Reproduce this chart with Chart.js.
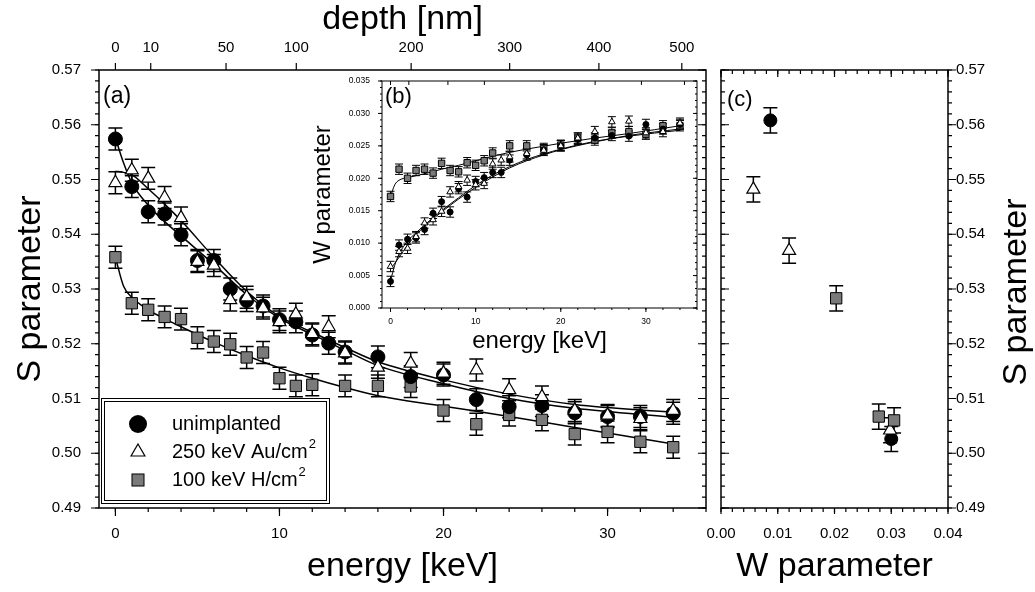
<!DOCTYPE html>
<html><head><meta charset="utf-8">
<script src="https://cdn.jsdelivr.net/npm/chart.js@4.4.1/dist/chart.umd.min.js"></script>
<style>
html,body{margin:0;padding:0;background:#fff;}
#wrap{position:relative;width:1035px;height:592px;overflow:hidden;background:#fff;}
canvas{position:absolute;}
</style></head><body>
<div id="wrap">
<canvas id="main" width="715" height="592" style="left:0;top:0"></canvas>
<canvas id="inset" width="405" height="290" style="left:300px;top:72px"></canvas>
<canvas id="panelc" width="340" height="592" style="left:695px;top:0"></canvas>
</div>
<script>
// ---------------- data ----------------
const energy = [0,1,2,3,4,5,6,7,8,9,10,11,12,13,14,16,18,20,22,24,26,28,30,32,34];
const sUnimplanted = [0.5574,0.5487,0.5441,0.5437,0.5399,0.5352,0.5352,0.5300,0.5279,0.5269,0.5244,0.5240,0.5216,0.5201,0.5185,0.5176,0.5140,0.5143,0.5098,0.5085,0.5087,0.5074,0.5067,0.5067,0.5073];
const sAu = [0.5494,0.5517,0.5502,0.5467,0.5430,0.5350,0.5343,0.5280,0.5285,0.5265,0.5240,0.5254,0.5218,0.5231,0.5183,0.5157,0.5164,0.5146,0.5152,0.5116,0.5103,0.5078,0.5069,0.5063,0.5078];
const sH = [0.5358,0.5274,0.5262,0.5249,0.5245,0.5211,0.5204,0.5199,0.5175,0.5184,0.5137,0.5123,0.5125,null,0.5123,0.5123,0.5122,0.5078,0.5053,0.5070,0.5061,0.5035,0.5039,0.5021,0.5011];
const sErr = 0.002;

const fitEnergy = [0,0.5,1,2,3,4,6,8,10,12,14,16,20,24,28,34];
const sFitUnimplanted = [0.5576,0.5530,0.5494,0.5453,0.5423,0.5397,0.5345,0.5290,0.5247,0.5217,0.5188,0.5160,0.5127,0.5100,0.5082,0.5066];
const sFitAu = [0.5515,0.5513,0.5509,0.5483,0.5455,0.5425,0.5358,0.5296,0.5250,0.5221,0.5193,0.5167,0.5134,0.5108,0.5089,0.5075];
const sFitH = [0.5358,0.5305,0.5285,0.5262,0.5246,0.5231,0.5203,0.5178,0.5156,0.5137,0.5120,0.5105,0.5086,0.5067,0.5047,0.5017];

const wUnimplanted = [0.0041,0.0097,0.0106,0.0108,0.0121,0.0146,0.0164,0.0148,0.0184,0.0171,0.0195,0.0201,0.0209,0.0209,0.0228,0.0236,0.0244,0.0250,0.0260,0.0262,0.0266,0.0265,0.0283,0.0276,0.0283];
const wAu = [0.0064,0.0087,0.0092,0.0110,0.0131,0.0136,0.0149,0.0179,0.0187,0.0197,0.0190,0.0192,0.0222,0.0228,0.0233,0.0238,0.0243,0.0250,0.0262,0.0272,0.0287,0.0288,0.0270,0.0272,0.0285];
const wH = [0.0172,0.0214,0.0200,0.0212,0.0214,0.0208,0.0223,0.0212,0.0210,0.0224,0.0220,0.0227,0.0239,null,0.0250,0.0250,0.0246,0.0251,0.0262,0.0259,0.0270,0.0272,0.0268,0.0281,0.0281];
const wErr = 0.0008;
const wFitUnimplanted = [0.0042,0.0066,0.0083,0.0103,0.0116,0.0128,0.0150,0.0170,0.0189,0.0205,0.0218,0.0229,0.0245,0.0257,0.0265,0.0274];
const wFitAu = [0.0060,0.0069,0.0078,0.0097,0.0113,0.0126,0.0148,0.0168,0.0186,0.0202,0.0216,0.0227,0.0244,0.0256,0.0266,0.0276];
const wFitH = [0.0172,0.0190,0.0197,0.0201,0.0204,0.0207,0.0214,0.0220,0.0227,0.0234,0.0240,0.0245,0.0254,0.0262,0.0269,0.0281];

const cWUnimplanted = [0.0087,0.0300];
const cSUnimplanted = [0.5608,0.5026];
const cWAu = [0.0057,0.0120,0.0298];
const cSAu = [0.5482,0.5370,0.5042];
const cWH = [0.0203,0.0278,0.0305];
const cSH = [0.5283,0.5067,0.5060];
const cErr = 0.0023;

const energyTicks = [0,10,20,30];
const depthTicks = [0,10,50,100,200,300,400,500];
const sTicks = [0.49,0.50,0.51,0.52,0.53,0.54,0.55,0.56,0.57];
const wInsetTicks = [0,0.005,0.010,0.015,0.020,0.025,0.030,0.035];
const wTicks = [0,0.01,0.02,0.03,0.04];
const seriesNames = ['unimplanted','250 keV Au/cm','100 keV H/cm'];
const seriesSup = ['','2','2'];

// depth (nm) -> positron energy (keV) conversion for the top axis
const A_DEPTH = 3.39, N_DEPTH = 1.41;
const energyOfDepth = d => Math.pow(d / A_DEPTH, 1 / N_DEPTH);

// ---------------- helpers ----------------
const FONT = "'Liberation Sans', Arial, Helvetica, sans-serif";
Chart.defaults.font.family = FONT;
Chart.defaults.color = '#000';

function pts(xs, ys) { const out = []; xs.forEach((x, i) => { if (ys[i] != null) out.push({x: x, y: ys[i]}); }); return out; }
function seq(a, b, st) { const out = []; const n = Math.round((b - a) / st); for (let k = 0; k <= n; k++) out.push(Math.round((a + k * st) * 1e6) / 1e6); return out; }
const GRAY = '#7a7a7a';
const styleCircle = {pointStyle: 'circle', backgroundColor: '#000', borderColor: '#000', borderWidth: 1};
const styleTri = {pointStyle: 'triangle', backgroundColor: '#fff', borderColor: '#000', borderWidth: 1.2};
const styleSq = {pointStyle: 'rect', backgroundColor: GRAY, borderColor: '#000', borderWidth: 1};
function fitLine(xs, ys, w) { return {data: pts(xs, ys), showLine: true, pointRadius: 0, pointHoverRadius: 0, borderColor: '#000', borderWidth: w, cubicInterpolationMode: 'monotone', fill: false, order: 10}; }

function axis(o) {
  return Object.assign({type: 'linear', grid: {display: false, drawTicks: false}, border: {display: false}}, o);
}
function fixedTicks(values) { return s => { s.ticks = values.map(v => ({value: v})); }; }
function fixH(h) { return s => { s.height = h; s.paddingLeft = 0; s.paddingRight = 0; }; }
function fixW(w) { return s => { s.width = w; s.paddingTop = 0; s.paddingBottom = 0; }; }

function makeErrorBars(cap, lw) {
  return {
    id: 'errorBars',
    beforeDatasetsDraw(chart) {
      const ctx = chart.ctx;
      ctx.save(); ctx.strokeStyle = '#000'; ctx.lineWidth = lw;
      chart.data.datasets.forEach(ds => {
        if (ds.errBar == null) return;
        const xs = chart.scales.x, ys = chart.scales.y;
        ds.data.forEach(p => {
          const px = xs.getPixelForValue(p.x);
          const y1 = ys.getPixelForValue(p.y - ds.errBar), y2 = ys.getPixelForValue(p.y + ds.errBar);
          ctx.beginPath();
          ctx.moveTo(px, y1); ctx.lineTo(px, y2);
          ctx.moveTo(px - cap, y1); ctx.lineTo(px + cap, y1);
          ctx.moveTo(px - cap, y2); ctx.lineTo(px + cap, y2);
          ctx.stroke();
        });
      });
      ctx.restore();
    }
  };
}

function makeDeco(cfg) {
  return {
    id: 'deco',
    beforeDraw(chart) {
      const a = chart.chartArea, ctx = chart.ctx;
      if (cfg.fill) { ctx.save(); ctx.fillStyle = '#fff'; ctx.fillRect(a.left, a.top, a.right - a.left, a.bottom - a.top); ctx.restore(); }
    },
    afterDraw(chart) {
      const a = chart.chartArea, ctx = chart.ctx;
      ctx.save();
      ctx.strokeStyle = '#000';
      ctx.lineWidth = cfg.frameWidth;
      ctx.strokeRect(a.left, a.top, a.right - a.left, a.bottom - a.top);
      ctx.lineWidth = cfg.tickWidth;
      cfg.ticks.forEach(t => {
        const sc = chart.scales[t.scale];
        ctx.beginPath();
        t.values.forEach(v => {
          const p = sc.getPixelForValue(v);
          if (t.edge === 'left') { ctx.moveTo(a.left, p); ctx.lineTo(a.left - t.len, p); }
          else if (t.edge === 'right') { ctx.moveTo(a.right, p); ctx.lineTo(a.right + t.len, p); }
          else if (t.edge === 'top') { ctx.moveTo(p, a.top); ctx.lineTo(p, a.top - t.len); }
          else { ctx.moveTo(p, a.bottom); ctx.lineTo(p, a.bottom + t.len); }
        });
        ctx.stroke();
      });
      ctx.fillStyle = '#000';
      (cfg.texts || []).forEach(t => {
        ctx.save();
        ctx.font = t.size + 'px ' + FONT;
        ctx.textAlign = t.align || 'left';
        ctx.textBaseline = 'middle';
        ctx.translate(t.x, t.y);
        if (t.rot) ctx.rotate(t.rot);
        ctx.fillText(t.text, 0, 0);
        ctx.restore();
      });
      if (cfg.legend) drawLegend(ctx, cfg.legend);
      ctx.restore();
    }
  };
}

function drawMarker(ctx, kind, x, y, r) {
  ctx.save();
  ctx.strokeStyle = '#000';
  if (kind === 0) { ctx.fillStyle = '#000'; ctx.beginPath(); ctx.arc(x, y, r, 0, Math.PI * 2); ctx.fill(); }
  else if (kind === 1) {
    ctx.fillStyle = '#fff'; ctx.lineWidth = 1.2; ctx.beginPath();
    for (let k = 0; k < 3; k++) { const ang = k * 2 * Math.PI / 3; const px = x + Math.sin(ang) * r, py = y - Math.cos(ang) * r; if (k === 0) ctx.moveTo(px, py); else ctx.lineTo(px, py); }
    ctx.closePath(); ctx.fill(); ctx.stroke();
  } else {
    const h = r * Math.SQRT1_2; ctx.fillStyle = GRAY; ctx.lineWidth = 1;
    ctx.fillRect(x - h, y - h, 2 * h, 2 * h); ctx.strokeRect(x - h, y - h, 2 * h, 2 * h);
  }
  ctx.restore();
}

function drawLegend(ctx, L) {
  ctx.save();
  ctx.fillStyle = '#fff';
  ctx.fillRect(L.x, L.y, L.w, L.h);
  ctx.strokeStyle = '#000'; ctx.lineWidth = 1;
  ctx.strokeRect(L.x + 0.5, L.y + 0.5, L.w - 1, L.h - 1);
  ctx.strokeRect(L.x + 3.5, L.y + 3.5, L.w - 7, L.h - 7);
  seriesNames.forEach((name, i) => {
    const y = L.rowY[i];
    drawMarker(ctx, i, L.markX, y, L.markR[i]);
    ctx.fillStyle = '#000';
    ctx.font = L.size + 'px ' + FONT;
    ctx.textAlign = 'left'; ctx.textBaseline = 'middle';
    ctx.fillText(name, L.textX, y);
    if (seriesSup[i]) {
      const w = ctx.measureText(name).width;
      ctx.font = Math.round(L.size * 0.65) + 'px ' + FONT;
      ctx.fillText(seriesSup[i], L.textX + w + 1, y - 8);
    }
  });
  ctx.restore();
}

const common = {animation: false, responsive: false, devicePixelRatio: 1, events: [],
  plugins: {legend: {display: false}, tooltip: {enabled: false}}};

// ---------------- main panel (a) ----------------
new Chart(document.getElementById('main'), {
  type: 'scatter',
  data: {datasets: [
    Object.assign({data: pts(energy, sAu), pointRadius: 7.5, errBar: sErr, order: 1}, styleTri),
    Object.assign({data: pts(energy, sUnimplanted), pointRadius: 7, errBar: sErr, order: 2}, styleCircle),
    Object.assign({data: pts(energy, sH), pointRadius: 8, errBar: sErr, order: 3}, styleSq),
    fitLine(fitEnergy, sFitUnimplanted, 1.5),
    fitLine(fitEnergy, sFitAu, 1.5),
    fitLine(fitEnergy, sFitH, 1.5)
  ]},
  options: Object.assign({}, common, {
    layout: {padding: {left: 0, right: 8, top: 0, bottom: 0}},
    scales: {
      x: axis({position: 'bottom', min: -1, max: 36, afterBuildTicks: fixedTicks(energyTicks),
        ticks: {autoSkip: false, maxRotation: 0, padding: 17, font: {size: 15}, callback: v => String(v)},
        title: {display: true, text: 'energy [keV]', font: {size: 34, lineHeight: 1}, padding: {top: 0, bottom: 8}},
        afterFit: fixH(84)}),
      xTop: axis({position: 'top', axis: 'x', min: -1, max: 36,
        afterBuildTicks: fixedTicks(depthTicks.map(energyOfDepth)),
        ticks: {autoSkip: false, maxRotation: 0, padding: 13, font: {size: 15}, callback: (v, i) => String(depthTicks[i])},
        title: {display: true, text: 'depth [nm]', font: {size: 34, lineHeight: 1}, padding: {top: 3, bottom: 0}},
        afterFit: fixH(70)}),
      y: axis({position: 'left', min: 0.49, max: 0.57, afterBuildTicks: fixedTicks(sTicks),
        ticks: {autoSkip: false, padding: 18, font: {size: 15}, callback: v => v.toFixed(2)},
        title: {display: true, text: 'S parameter', font: {size: 34, lineHeight: 1}, padding: {top: 14, bottom: 0}},
        afterFit: fixW(99)})
    }
  }),
  plugins: [makeErrorBars(7, 1.5), makeDeco({
    frameWidth: 1.5, tickWidth: 1.2,
    ticks: [
      {scale: 'y', edge: 'left', values: sTicks, len: 8},
      {scale: 'y', edge: 'left', values: seq(0.49, 0.57, 0.002), len: 4},
      {scale: 'y', edge: 'right', values: sTicks, len: -8},
      {scale: 'y', edge: 'right', values: seq(0.49, 0.57, 0.002), len: -4},
      {scale: 'x', edge: 'bottom', values: energyTicks, len: 8},
      {scale: 'x', edge: 'bottom', values: seq(0, 36, 2), len: 4},
      {scale: 'xTop', edge: 'top', values: depthTicks.map(energyOfDepth), len: 7}
    ],
    texts: [{text: '(a)', x: 103, y: 97, size: 23}],
    legend: {x: 101, y: 398, w: 229, h: 106, markX: 138, markR: [9, 8, 8.5], textX: 172, rowY: [424, 452, 480], size: 20}
  })]
});

// ---------------- inset (b) ----------------
new Chart(document.getElementById('inset'), {
  type: 'scatter',
  data: {datasets: [
    Object.assign({data: pts(energy, wAu), pointRadius: 3.8, errBar: wErr, order: 1}, styleTri, {borderWidth: 1}),
    Object.assign({data: pts(energy, wUnimplanted), pointRadius: 3, errBar: wErr, order: 2}, styleCircle),
    Object.assign({data: pts(energy, wH), pointRadius: 4.5, errBar: wErr, order: 3}, styleSq),
    fitLine(fitEnergy, wFitUnimplanted, 1),
    fitLine(fitEnergy, wFitAu, 1),
    fitLine(fitEnergy, wFitH, 1)
  ]},
  options: Object.assign({}, common, {
    layout: {padding: {left: 0, right: 8, top: 9, bottom: 0}},
    scales: {
      x: axis({position: 'bottom', min: -1, max: 36, afterBuildTicks: fixedTicks(energyTicks),
        ticks: {autoSkip: false, maxRotation: 0, padding: 9, font: {size: 8.5}, callback: v => String(v)},
        title: {display: true, text: 'energy [keV]', font: {size: 24, lineHeight: 1}, padding: {top: 0, bottom: 9}},
        afterFit: fixH(54)}),
      y: axis({position: 'left', min: 0, max: 0.035, afterBuildTicks: fixedTicks(wInsetTicks),
        ticks: {autoSkip: false, padding: 12, font: {size: 8.5}, callback: v => v.toFixed(3)},
        title: {display: true, text: 'W parameter', font: {size: 24, lineHeight: 1}, padding: {top: 11, bottom: 0}},
        afterFit: fixW(82)})
    }
  }),
  plugins: [makeErrorBars(4, 1), makeDeco({
    fill: true, frameWidth: 1, tickWidth: 1,
    ticks: [
      {scale: 'y', edge: 'left', values: wInsetTicks, len: 4},
      {scale: 'y', edge: 'left', values: seq(0, 0.035, 0.001), len: 2},
      {scale: 'y', edge: 'right', values: wInsetTicks, len: -4},
      {scale: 'y', edge: 'right', values: seq(0, 0.035, 0.001), len: -2},
      {scale: 'x', edge: 'bottom', values: energyTicks, len: 4},
      {scale: 'x', edge: 'bottom', values: seq(0, 36, 2), len: 2},
      {scale: 'x', edge: 'top', values: depthTicks.map(energyOfDepth), len: -4}
    ],
    texts: [{text: '(b)', x: 85, y: 25, size: 22}]
  })]
});

// ---------------- panel (c) ----------------
new Chart(document.getElementById('panelc'), {
  type: 'scatter',
  data: {datasets: [
    Object.assign({data: pts(cWH, cSH), pointRadius: 8, errBar: cErr, order: 1}, styleSq),
    Object.assign({data: pts(cWAu, cSAu), pointRadius: 7.5, errBar: cErr, order: 2}, styleTri),
    Object.assign({data: pts(cWUnimplanted, cSUnimplanted), pointRadius: 6.5, errBar: cErr, order: 3}, styleCircle)
  ]},
  options: Object.assign({}, common, {
    layout: {padding: {left: 26, right: 0, top: 70, bottom: 0}},
    scales: {
      x: axis({position: 'bottom', min: 0, max: 0.04, afterBuildTicks: fixedTicks(wTicks),
        ticks: {autoSkip: false, maxRotation: 0, padding: 17, font: {size: 15}, callback: v => v.toFixed(2)},
        title: {display: true, text: 'W parameter', font: {size: 34, lineHeight: 1}, padding: {top: 0, bottom: 8}},
        afterFit: fixH(84)}),
      y: axis({position: 'right', min: 0.49, max: 0.57, afterBuildTicks: fixedTicks(sTicks),
        ticks: {autoSkip: false, padding: 8, font: {size: 15}, callback: v => v.toFixed(2)},
        afterFit: fixW(87)})
    }
  }),
  plugins: [makeErrorBars(7, 1.5), makeDeco({
    frameWidth: 1.5, tickWidth: 1.2,
    ticks: [
      {scale: 'y', edge: 'right', values: sTicks, len: 8},
      {scale: 'y', edge: 'right', values: seq(0.49, 0.57, 0.002), len: 4},
      {scale: 'y', edge: 'left', values: sTicks, len: -8},
      {scale: 'y', edge: 'left', values: seq(0.49, 0.57, 0.002), len: -4},
      {scale: 'x', edge: 'bottom', values: wTicks, len: 6},
      {scale: 'x', edge: 'bottom', values: seq(0, 0.04, 0.002), len: 4},
      {scale: 'x', edge: 'top', values: wTicks, len: -7},
      {scale: 'x', edge: 'top', values: seq(0, 0.04, 0.002), len: -4}
    ],
    texts: [
      {text: '(c)', x: 32, y: 100, size: 22},
      {text: 'S parameter', x: 322, y: 292, size: 34, align: 'center', rot: -Math.PI / 2}
    ]
  })]
});
</script>
</body></html>
